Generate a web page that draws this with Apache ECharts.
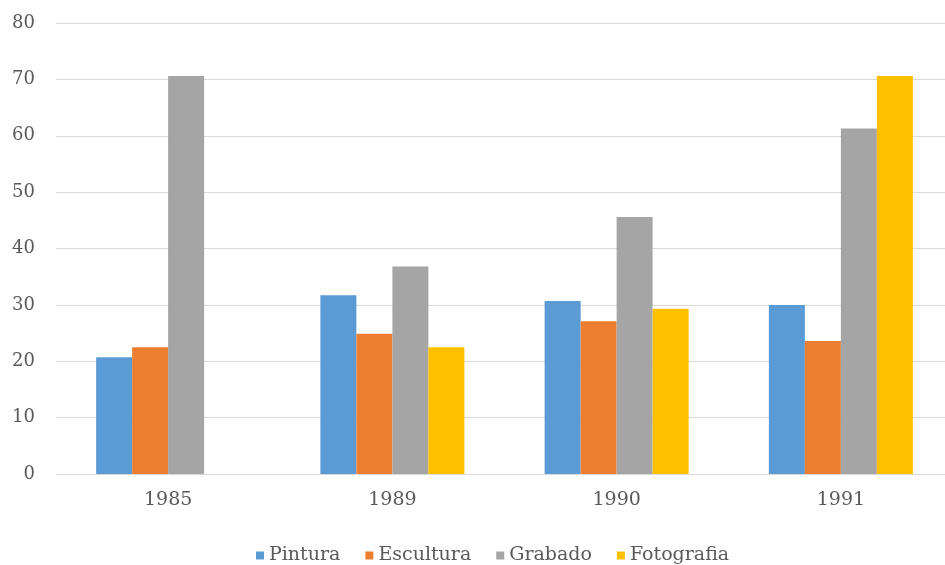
<!DOCTYPE html>
<html>
<head>
<meta charset="utf-8">
<script src="https://cdn.jsdelivr.net/npm/echarts@6/dist/echarts.min.js"></script>
<style>
  html, body { margin: 0; padding: 0; background: #fff; }
  #chart { width: 945px; height: 565px; }
</style>
</head>
<body>
<div id="chart"></div>
<script>
const years = ['1985', '1989', '1990', '1991']
const pintura = [20.7, 31.7, 30.7, 30.0]
const escultura = [22.5, 24.9, 27.1, 23.6]
const grabado = [70.6, 36.8, 45.6, 61.3]
const fotografia = [null, 22.5, 29.3, 70.6]

const font = 'DejaVu Serif'
const textColor = '#595959'

const chart = echarts.init(document.getElementById('chart'))

const bar = (name, data, color) => ({
  name: name,
  type: 'bar',
  data: data,
  barWidth: 36,
  barGap: '0%',
  itemStyle: { color: color },
  emphasis: { disabled: true }
})

chart.setOption({
  animation: false,
  legend: {
    top: 541,
    left: 251,
    icon: 'rect',
    itemWidth: 8,
    itemHeight: 8,
    itemGap: 25,
    textStyle: { fontFamily: font, fontSize: 19, color: textColor },
    data: ['Pintura', 'Escultura', 'Grabado', 'Fotografia']
  },
  // plot runs a little past the right edge, like the cropped original
  grid: { left: 56, top: 23, width: 897, height: 451, outerBoundsMode: 'none' },
  xAxis: {
    type: 'category',
    data: years,
    axisLine: { lineStyle: { color: '#d9d9d9', width: 1 } },
    axisTick: { show: false },
    axisLabel: { fontFamily: font, fontSize: 19, color: textColor, margin: 17 }
  },
  yAxis: {
    type: 'value',
    min: 0,
    max: 80,
    interval: 10,
    axisLine: { show: false },
    axisTick: { show: false },
    splitLine: { lineStyle: { color: '#d9d9d9', width: 1 } },
    axisLabel: { fontFamily: font, fontSize: 18, color: textColor, margin: 21 }
  },
  series: [
    bar('Pintura', pintura, '#5b9bd5'),
    bar('Escultura', escultura, '#ed7d31'),
    bar('Grabado', grabado, '#a5a5a5'),
    bar('Fotografia', fotografia, '#ffc000')
  ]
})
</script>
</body>
</html>
